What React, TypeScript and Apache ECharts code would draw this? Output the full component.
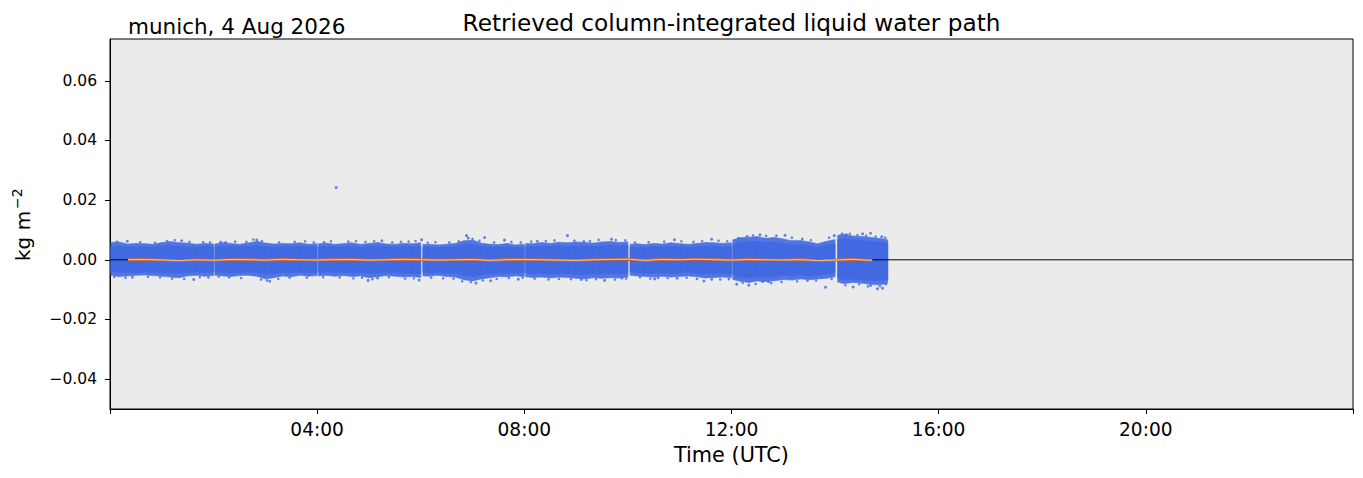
import React, { useEffect, useRef } from "react";
import * as echarts from "echarts";

// ---- data (minutes of day, kg m^-2) ----
// retrieval segments between short data gaps
const bandMinutes: number[][] = [
  [1, 10, 20, 30, 40, 50, 60, 70, 80, 90, 100, 110, 120],
  [121.5, 130, 140, 150, 160, 170, 180, 190, 200, 210, 220, 230, 240],
  [241.5, 250, 260, 270, 280, 290, 300, 310, 320, 330, 340, 350, 360],
  [362.5, 370, 380, 390, 400, 410, 420, 430, 440, 450, 460, 470, 480],
  [481.5, 490, 500, 510, 520, 530, 540, 550, 560, 570, 580, 590, 600],
  [602.5, 610, 620, 630, 640, 650, 660, 670, 680, 690, 700, 710, 720],
  [721.5, 730, 740, 750, 760, 770, 780, 790, 800, 810, 820, 830, 840],
  [843, 850, 860, 870, 880, 890, 900, 901],
];

// dense part of the scatter cloud
const coreUpper: number[][] = [
  [0.0042, 0.0046, 0.0044, 0.0043, 0.0045, 0.0042, 0.0046, 0.0048, 0.0045, 0.0044, 0.0042, 0.0045, 0.0043],
  [0.0043, 0.0044, 0.0046, 0.0043, 0.0045, 0.0047, 0.0044, 0.0042, 0.0046, 0.0044, 0.0045, 0.0043, 0.0044],
  [0.0044, 0.0045, 0.0043, 0.0044, 0.0046, 0.0042, 0.0045, 0.0047, 0.0044, 0.0043, 0.0045, 0.0044, 0.0046],
  [0.0042, 0.0043, 0.0041, 0.0043, 0.0044, 0.005, 0.0052, 0.0046, 0.0043, 0.0042, 0.0044, 0.0041, 0.0043],
  [0.0045, 0.0043, 0.0046, 0.0044, 0.0047, 0.0045, 0.0048, 0.0046, 0.0044, 0.0047, 0.0049, 0.0046, 0.0048],
  [0.0042, 0.0043, 0.0041, 0.0044, 0.0043, 0.0045, 0.0043, 0.0042, 0.0044, 0.0046, 0.0045, 0.0043, 0.0045],
  [0.0052, 0.0058, 0.006, 0.0062, 0.0057, 0.006, 0.0054, 0.005, 0.0051, 0.0047, 0.0042, 0.0048, 0.0053],
  [0.0068, 0.0072, 0.0068, 0.0064, 0.0062, 0.0058, 0.0056, 0.0054],
];
const coreLower: number[][] = [
  [-0.004, -0.0042, -0.0041, -0.0044, -0.004, -0.0042, -0.0043, -0.0045, -0.0046, -0.0042, -0.004, -0.0043, -0.0041],
  [-0.0041, -0.0042, -0.0044, -0.0042, -0.0041, -0.0043, -0.0048, -0.0046, -0.0042, -0.0044, -0.0041, -0.0043, -0.0042],
  [-0.0042, -0.0041, -0.0043, -0.0042, -0.0044, -0.0042, -0.0046, -0.0044, -0.0042, -0.0043, -0.0045, -0.0044, -0.0046],
  [-0.0042, -0.0043, -0.0041, -0.0044, -0.0045, -0.0052, -0.0056, -0.005, -0.0047, -0.0044, -0.0045, -0.0043, -0.0044],
  [-0.0044, -0.0046, -0.0045, -0.0047, -0.0045, -0.0046, -0.0048, -0.005, -0.0047, -0.0048, -0.0046, -0.0047, -0.0045],
  [-0.004, -0.0042, -0.0044, -0.0045, -0.0043, -0.0045, -0.0044, -0.0042, -0.0045, -0.0047, -0.0046, -0.0045, -0.0047],
  [-0.0052, -0.0057, -0.006, -0.0056, -0.0058, -0.0055, -0.0052, -0.0054, -0.0051, -0.0053, -0.005, -0.0047, -0.0044],
  [-0.0062, -0.0067, -0.0064, -0.0066, -0.0068, -0.007, -0.0067, -0.0062],
];
// sparse fringe of the cloud
const fringeUpper: number[][] = [
  [0.0058, 0.006, 0.0053, 0.0055, 0.0054, 0.0052, 0.0058, 0.0061, 0.0057, 0.0056, 0.0052, 0.0055, 0.0053],
  [0.0053, 0.0058, 0.0055, 0.0052, 0.0056, 0.0062, 0.0056, 0.0053, 0.0055, 0.0054, 0.0057, 0.0052, 0.0054],
  [0.0054, 0.0056, 0.0052, 0.0054, 0.0057, 0.0052, 0.0055, 0.0058, 0.0053, 0.0052, 0.0055, 0.0054, 0.0057],
  [0.0051, 0.0052, 0.005, 0.0052, 0.0055, 0.0064, 0.0066, 0.0056, 0.0052, 0.0051, 0.0055, 0.005, 0.0052],
  [0.0055, 0.0054, 0.0058, 0.0055, 0.0059, 0.0057, 0.006, 0.0058, 0.0056, 0.006, 0.0061, 0.0058, 0.006],
  [0.0052, 0.0054, 0.0051, 0.0055, 0.0053, 0.0057, 0.0054, 0.0052, 0.0055, 0.0058, 0.0057, 0.0055, 0.0057],
  [0.0067, 0.0074, 0.0076, 0.0078, 0.0072, 0.0075, 0.007, 0.0064, 0.0065, 0.006, 0.0054, 0.0062, 0.0068],
  [0.0082, 0.0086, 0.008, 0.0078, 0.0076, 0.0072, 0.0068, 0.0062],
];
const fringeLower: number[][] = [
  [-0.0052, -0.0056, -0.0054, -0.0052, -0.0051, -0.0053, -0.0055, -0.0058, -0.006, -0.0054, -0.0052, -0.0055, -0.0053],
  [-0.0052, -0.0054, -0.0056, -0.0053, -0.0052, -0.0055, -0.0064, -0.006, -0.0054, -0.0057, -0.0052, -0.0055, -0.0053],
  [-0.0054, -0.0052, -0.0055, -0.0053, -0.0056, -0.0054, -0.006, -0.0057, -0.0053, -0.0055, -0.0058, -0.0056, -0.0059],
  [-0.0054, -0.0055, -0.0052, -0.0056, -0.0058, -0.0067, -0.0071, -0.0064, -0.006, -0.0056, -0.0057, -0.0054, -0.0056],
  [-0.0057, -0.0059, -0.0058, -0.0061, -0.0058, -0.0059, -0.0062, -0.0064, -0.006, -0.0062, -0.006, -0.0061, -0.0058],
  [-0.0052, -0.0054, -0.0056, -0.0058, -0.0055, -0.0058, -0.0056, -0.0054, -0.0057, -0.0061, -0.0059, -0.0058, -0.006],
  [-0.0066, -0.0072, -0.0076, -0.0071, -0.0073, -0.007, -0.0066, -0.0068, -0.0064, -0.0067, -0.0064, -0.0062, -0.0057],
  [-0.0074, -0.008, -0.0076, -0.0078, -0.0082, -0.0084, -0.008, -0.0072],
];

// isolated retrievals outside the cloud [minute, value]
const outlierPoints: number[][] = [
  [20, 0.0062], [83, 0.0064], [134, 0.0058], [170, 0.0066], [26, -0.0058], [97, -0.0066],
  [185, -0.0072], [299, -0.0069], [262, 0.0242], [315, 0.0064], [361, 0.0067], [413, 0.0081],
  [415, 0.0073], [434, 0.0075], [457, 0.0066], [495, 0.0062], [530, 0.0081], [549, 0.0061],
  [581, 0.0069], [310, -0.0061], [358, -0.0068], [424, -0.0078], [441, -0.007], [473, -0.0065],
  [546, -0.0066], [573, -0.0069], [593, -0.0062], [654, 0.0067], [697, 0.0069], [738, 0.0078],
  [753, 0.0084], [782, 0.0082], [839, 0.0081], [853, 0.0084], [872, 0.0087], [881, 0.0089],
  [894, 0.0077], [631, -0.0064], [635, -0.006], [657, -0.0062], [688, -0.0071], [697, -0.0065],
  [726, -0.0082], [740, -0.0085], [756, -0.0073], [763, -0.0073], [829, -0.0092], [861, -0.0091],
  [881, -0.0086], [889, -0.0097], [895, -0.0095],
];

// scattered retrievals along the edge of the cloud [minute, value]
const edgePoints: number[][] = [
  [8, 0.006], [35, 0.0059], [52, 0.0057], [66, 0.0063], [75, 0.0066], [92, 0.006], [108, 0.0059],
  [116, 0.0058], [128, 0.006], [145, 0.0061], [158, 0.006], [166, 0.0068], [176, 0.0063], [196, 0.0058],
  [214, 0.006], [226, 0.0062], [236, 0.0058], [248, 0.0059], [256, 0.0062], [276, 0.0061], [285, 0.0063],
  [296, 0.006], [306, 0.0063], [327, 0.0058], [337, 0.006], [346, 0.0061], [354, 0.0063], [368, 0.0057],
  [377, 0.0059], [393, 0.0058], [404, 0.0062], [420, 0.007], [428, 0.0064], [445, 0.0058], [465, 0.006],
  [476, 0.0058], [488, 0.0061], [505, 0.0063], [515, 0.0065], [538, 0.0064], [556, 0.0063], [566, 0.0067],
  [586, 0.0066], [597, 0.0065], [608, 0.0058], [624, 0.0059], [642, 0.0061], [662, 0.0062], [676, 0.006],
  [686, 0.0063], [705, 0.0064], [715, 0.0062], [728, 0.0073], [745, 0.0082], [760, 0.008], [772, 0.0081],
  [790, 0.0074], [802, 0.007], [812, 0.0066], [833, 0.0074], [848, 0.0088], [857, 0.0087], [866, 0.0083],
  [876, 0.0081], [887, 0.0078], [898, 0.0074],
  [5, -0.0057], [18, -0.006], [44, -0.0057], [58, -0.0059], [72, -0.0063], [86, -0.0064], [104, -0.0058],
  [114, -0.0059], [126, -0.0056], [138, -0.0059], [152, -0.0061], [175, -0.0066], [182, -0.0069],
  [195, -0.0064], [208, -0.006], [228, -0.006], [247, -0.0058], [266, -0.0059], [282, -0.0062],
  [292, -0.006], [304, -0.0065], [323, -0.0058], [342, -0.0063], [352, -0.0062], [372, -0.006],
  [386, -0.0062], [398, -0.0063], [408, -0.0072], [418, -0.0074], [432, -0.0069], [448, -0.0064],
  [462, -0.0061], [478, -0.006], [492, -0.0063], [508, -0.0066], [520, -0.0064], [534, -0.0065],
  [552, -0.0068], [563, -0.0065], [585, -0.0066], [598, -0.0063], [614, -0.0058], [626, -0.0063],
  [646, -0.0061], [668, -0.006], [680, -0.0064], [707, -0.0066], [717, -0.0065], [733, -0.0077],
  [748, -0.0081], [766, -0.0078], [778, -0.0074], [796, -0.0072], [808, -0.007], [818, -0.0069],
  [836, -0.0064], [852, -0.0085], [868, -0.0082], [878, -0.0089], [892, -0.0088], [899, -0.0082],
];

// running mean of the retrieval
const meanMinutes: number[] = [
  21, 40, 60, 80, 100, 120, 140, 160, 180, 200, 220, 240, 260, 280, 300, 320, 340, 360, 380, 400,
  420, 440, 460, 480, 500, 520, 540, 560, 580, 600, 620, 640, 660, 680, 700, 720, 740, 760, 780,
  800, 820, 840, 860, 880, 883,
];
const meanValues: number[] = [
  0.00005, 0.0001, -0.00005, -0.00025, 0, -0.00015, 0.0001, 0.00005, -0.0001, 0.00015, 0, -0.00005,
  0.00005, 0.0001, -0.0001, 0, 0.00015, 0.00005, -0.0001, 0, 0.0001, -0.0002, 0.00005, 0.0001, 0,
  -0.0001, -0.0002, 0, 0.0001, 0.0002, -0.0002, 0.00015, 0, 0.0002, 0.00005, -0.0001, 0.0001, 0,
  -0.00005, 0.00005, -0.00025, -0.0001, 0.00015, -0.00015, -0.0001,
];

const xTickHours = [0, 4, 8, 12, 16, 20, 24];
const yTickValues = [-0.04, -0.02, 0, 0.02, 0.04, 0.06];

const FONT = "DejaVu Sans";
const BLUE = "#4169e1";
const FRINGE = "#4f76e2";

function buildBand(lower: number[][], upper: number[][]) {
  const items: number[][] = [];
  bandMinutes.forEach((mins, s) => {
    for (let i = 0; i < mins.length - 1; i++) {
      items.push([
        mins[i] / 60, lower[s][i], upper[s][i],
        mins[i + 1] / 60, lower[s][i + 1], upper[s][i + 1],
      ]);
    }
  });
  return items;
}

function bandSeries(name: string, lower: number[][], upper: number[][], color: string, z: number) {
  return {
    type: "custom",
    name,
    z,
    silent: true,
    encode: { x: [0, 3], y: [1, 2, 4, 5] },
    data: buildBand(lower, upper),
    renderItem: (_params: any, api: any) => {
      const a = api.coord([api.value(0), api.value(2)]);
      const b = api.coord([api.value(3), api.value(5)]);
      const c = api.coord([api.value(3), api.value(4)]);
      const d = api.coord([api.value(0), api.value(1)]);
      return {
        type: "polygon",
        shape: { points: [a, b, c, d] },
        style: { fill: color, stroke: color, lineWidth: 0.6 },
      };
    },
  };
}

export default function App() {
  const ref = useRef<HTMLDivElement>(null);

  useEffect(() => {
    if (!ref.current) return;
    const chart = echarts.init(ref.current, undefined, { renderer: "svg" });
    const meanData = meanMinutes.map((m, i) => [m / 60, meanValues[i]]);
    const toHours = (pts: number[][]) => pts.map(([m, v]) => [m / 60, v]);
    chart.setOption({
      animation: false,
      backgroundColor: "#ffffff",
      grid: {
        left: 110,
        top: 39,
        width: 1243,
        height: 370,
        show: true,
        backgroundColor: "#ebebeb",
        borderColor: "#000000",
        borderWidth: 1,
      },
      xAxis: {
        type: "value",
        min: 0,
        max: 24,
        interval: 4,
        axisLine: { show: true, onZero: false, lineStyle: { color: "#000", width: 1 } },
        axisTick: { show: true, length: 5, lineStyle: { color: "#000", width: 1 }, customValues: xTickHours },
        axisLabel: {
          customValues: xTickHours,
          formatter: (v: number) => (v === 0 || v === 24 ? "" : `${String(v).padStart(2, "0")}:00`),
          fontSize: 18.6,
          fontFamily: FONT,
          color: "#000",
          margin: 11,
        },
        splitLine: { show: false },
        name: "Time (UTC)",
        nameLocation: "middle",
        nameGap: 35,
        nameTextStyle: { fontSize: 20.8, fontFamily: FONT, color: "#000" },
      },
      yAxis: {
        type: "value",
        min: -0.05,
        max: 0.074,
        axisLine: { show: true, onZero: false, lineStyle: { color: "#000", width: 1 } },
        axisTick: { show: true, length: 5, lineStyle: { color: "#000", width: 1 }, customValues: yTickValues },
        axisLabel: {
          customValues: yTickValues,
          formatter: (v: number) => (Math.abs(v) < 1e-9 ? "0.00" : v.toFixed(2).replace("-", "\u2212")),
          fontSize: 15.5,
          fontFamily: FONT,
          color: "#000",
          margin: 13,
        },
        splitLine: { show: false },
      },
      graphic: [
        {
          type: "text",
          x: 731.5,
          y: 22,
          style: {
            text: "Retrieved column-integrated liquid water path",
            fontSize: 23.2,
            fontFamily: FONT,
            fill: "#000",
            align: "center",
            verticalAlign: "middle",
          },
        },
        {
          type: "text",
          x: 128,
          y: 26.6,
          style: {
            text: "munich, 4 Aug 2026",
            fontSize: 21.5,
            fontFamily: FONT,
            fill: "#000",
            align: "left",
            verticalAlign: "middle",
          },
        },
        {
          type: "text",
          x: 23,
          y: 261,
          rotation: Math.PI / 2,
          style: {
            text: "kg m",
            fontSize: 20,
            fontFamily: FONT,
            fill: "#000",
            align: "left",
            verticalAlign: "middle",
          },
        },
        {
          type: "text",
          x: 17,
          y: 209,
          rotation: Math.PI / 2,
          style: {
            text: "\u22122",
            fontSize: 14,
            fontFamily: FONT,
            fill: "#000",
            align: "left",
            verticalAlign: "middle",
          },
        },
      ],
      series: [
        bandSeries("fringe", fringeLower, fringeUpper, FRINGE, 2),
        bandSeries("core", coreLower, coreUpper, BLUE, 3),
        {
          type: "scatter",
          name: "edge",
          z: 3,
          silent: true,
          symbol: "circle",
          symbolSize: 2.6,
          itemStyle: { color: BLUE },
          data: toHours(edgePoints),
        },
        {
          type: "scatter",
          name: "outliers",
          z: 3,
          silent: true,
          symbol: "circle",
          symbolSize: 3,
          itemStyle: { color: BLUE },
          data: toHours(outlierPoints),
        },
        {
          type: "line",
          name: "zero",
          z: 4,
          silent: true,
          symbol: "none",
          lineStyle: { color: "#000", width: 1 },
          data: [[0, 0], [24, 0]],
        },
        {
          type: "line",
          name: "mean-edge",
          z: 5,
          silent: true,
          symbol: "none",
          lineStyle: { color: "#cf6a2b", width: 2.6 },
          data: meanData,
        },
        {
          type: "line",
          name: "mean",
          z: 6,
          silent: true,
          symbol: "none",
          lineStyle: { color: "#fbbf86", width: 1 },
          data: meanData,
        },
      ],
    });
    return () => chart.dispose();
  }, []);

  return (
    <div
      ref={ref}
      style={{ position: "fixed", left: 0, top: 0, width: 1363, height: 478, background: "#fff" }}
    />
  );
}
